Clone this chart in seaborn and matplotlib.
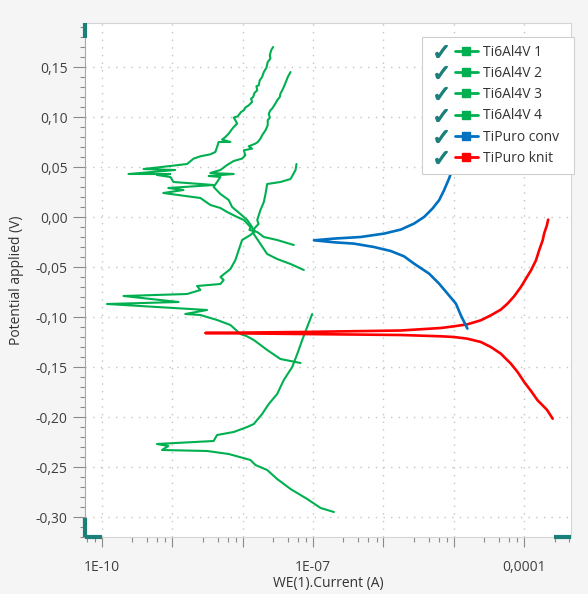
import numpy as np
import pandas as pd
import matplotlib
matplotlib.use("Agg")
import matplotlib.pyplot as plt
import seaborn as sns
from matplotlib.lines import Line2D
from matplotlib.legend_handler import HandlerTuple
from matplotlib.ticker import FixedLocator, FuncFormatter, MultipleLocator, NullFormatter

# ---------------- data (current in A, potential in V) ----------------
series_names = ["Ti6Al4V 1", "Ti6Al4V 2", "Ti6Al4V 3", "Ti6Al4V 4", "TiPuro conv", "TiPuro knit"]
series_colors = ["#00B050", "#00B050", "#00B050", "#00B050", "#0070C0", "#FF0000"]

ti1_current = [2.71e-8, 2.54e-8, 2.43e-8, 2.48e-8, 2.27e-8, 2.18e-8, 2.00e-8, 1.89e-8, 1.75e-8, 1.69e-8,
               1.57e-8, 1.61e-8, 1.47e-8, 1.41e-8, 1.32e-8, 1.36e-8, 1.22e-8, 1.09e-8, 1.04e-8, 9.50e-9,
               8.51e-9, 7.46e-9, 7.89e-9, 8.34e-9, 7.46e-9, 6.85e-9, 6.34e-9, 5.69e-9, 5.10e-9, 6.70e-9,
               4.56e-9, 4.33e-9, 4.09e-9, 3.48e-9, 2.51e-9, 2.01e-9, 1.62e-9, 9.37e-10, 3.91e-10, 1.10e-9,
               2.39e-10, 9.37e-10, 6.06e-10, 9.37e-10, 1.04e-9, 2.51e-9, 3.87e-9, 8.78e-10, 1.44e-9, 7.45e-10,
               2.51e-9, 3.48e-9, 4.83e-9, 6.01e-9, 8.34e-9, 1.04e-8, 1.29e-8, 1.25e-8, 1.61e-8, 2.00e-8,
               3.09e-8, 5.33e-8]
ti1_potential = [0.170, 0.1667, 0.1617, 0.1584, 0.155, 0.1494, 0.145, 0.140, 0.1367, 0.1317,
                 0.1307, 0.1267, 0.124, 0.120, 0.1184, 0.115, 0.1117, 0.1094, 0.1067, 0.105,
                 0.1007, 0.0994, 0.0967, 0.0934, 0.090, 0.0867, 0.0834, 0.080, 0.0774, 0.075,
                 0.075, 0.070, 0.065, 0.0627, 0.0607, 0.0584, 0.053, 0.051, 0.048, 0.047,
                 0.043, 0.043, 0.042, 0.040, 0.035, 0.033, 0.032, 0.029, 0.027, 0.024,
                 0.019, 0.012, 0.009, 0.005, 0.000, -0.003, -0.010, -0.013, -0.015, -0.020,
                 -0.023, -0.028]

ti2_current = [4.79e-8, 4.38e-8, 4.20e-8, 3.93e-8, 3.65e-8, 3.44e-8, 3.37e-8, 3.09e-8, 2.92e-8, 2.62e-8,
               2.48e-8, 2.35e-8, 2.43e-8, 2.27e-8, 2.27e-8, 2.11e-8, 1.89e-8, 1.79e-8, 1.64e-8, 1.52e-8,
               1.22e-8, 1.36e-8, 1.04e-8, 1.09e-8, 9.82e-9, 7.46e-9, 6.01e-9, 4.83e-9, 3.48e-9, 7.46e-9,
               3.29e-9, 4.83e-9, 4.33e-9, 3.87e-9, 4.83e-9, 6.34e-9, 7.08e-9, 9.29e-9, 1.16e-8, 1.36e-8,
               1.44e-8, 1.79e-8, 2.23e-8, 3.09e-8, 4.79e-8, 7.40e-8]
ti2_potential = [0.145, 0.140, 0.1367, 0.1317, 0.1267, 0.1234, 0.120, 0.1167, 0.1134, 0.1084,
                 0.1067, 0.1034, 0.0994, 0.0967, 0.0917, 0.0867, 0.0817, 0.0784, 0.075, 0.0734,
                 0.0707, 0.0684, 0.0667, 0.0617, 0.0584, 0.056, 0.052, 0.047, 0.044, 0.043,
                 0.041, 0.040, 0.035, 0.030, 0.023, 0.017, 0.010, 0.003, -0.003, -0.010,
                 -0.017, -0.027, -0.037, -0.042, -0.047, -0.053]

ti3_current = [5.82e-8, 5.64e-8, 4.79e-8, 3.44e-8, 2.23e-8, 2.11e-8, 2.00e-8, 1.79e-8, 1.61e-8, 1.68e-8,
               1.44e-8, 1.49e-8, 1.29e-8, 9.82e-9, 8.79e-9, 7.89e-9, 6.70e-9, 4.83e-9, 5.37e-9, 4.83e-9,
               2.25e-9, 2.51e-9, 1.62e-9, 2.03e-10, 1.23e-9, 1.18e-10, 3.12e-9, 1.53e-9, 2.51e-9, 4.33e-9,
               6.70e-9, 9.29e-9, 1.13e-8, 1.44e-8, 2.23e-8, 3.44e-8, 6.64e-8]
ti3_potential = [0.053, 0.047, 0.038, 0.035, 0.033, 0.023, 0.015, 0.007, -0.003, -0.007,
                 -0.012, -0.014, -0.018, -0.023, -0.033, -0.043, -0.052, -0.060, -0.063, -0.067,
                 -0.069, -0.073, -0.077, -0.079, -0.085, -0.087, -0.093, -0.097, -0.098, -0.103,
                 -0.108, -0.117, -0.119, -0.123, -0.133, -0.142, -0.146]

ti4_current = [9.73e-8, 8.26e-8, 7.02e-8, 5.96e-8, 5.06e-8, 3.84e-8, 3.09e-8, 2.35e-8, 1.89e-8, 1.44e-8,
               1.16e-8, 7.46e-9, 4.33e-9, 3.87e-9, 6.06e-10, 8.80e-10, 7.14e-10, 3.12e-9, 6.34e-9, 1.29e-8,
               1.52e-8, 2.23e-8, 3.09e-8, 4.79e-8, 8.26e-8, 1.28e-7, 1.98e-7]
ti4_potential = [-0.097, -0.110, -0.123, -0.137, -0.150, -0.163, -0.177, -0.187, -0.197, -0.207,
                 -0.210, -0.215, -0.218, -0.224, -0.227, -0.229, -0.233, -0.234, -0.237, -0.243,
                 -0.248, -0.253, -0.262, -0.272, -0.282, -0.291, -0.295]

conv_current = [1.56e-5, 1.26e-5, 1.07e-5, 8.13e-6, 6.17e-6, 4.45e-6, 2.72e-6, 1.96e-6, 1.27e-6, 7.33e-7,
                3.80e-7, 1.98e-7, 1.03e-7, 1.98e-7, 4.74e-7, 1.02e-6, 1.76e-6, 2.72e-6, 3.78e-6, 4.97e-6,
                6.17e-6, 7.26e-6, 8.55e-6, 1.07e-5, 1.34e-5]
conv_potential = [-0.1116, -0.0983, -0.0866, -0.0766, -0.0666, -0.0566, -0.0466, -0.0393, -0.0340, -0.0300,
                  -0.0266, -0.0253, -0.0233, -0.0216, -0.0200, -0.0166, -0.0126, -0.0066, 0.0000, 0.0084,
                  0.0167, 0.0267, 0.0384, 0.057, 0.077]

knit_current = [2.54e-4, 2.10e-4, 1.55e-4, 1.25e-4, 1.00e-4, 8.05e-5, 6.47e-5, 4.66e-5, 3.36e-5, 2.42e-5,
                1.56e-5, 1.01e-5, 6.52e-6, 1.76e-6, 6.64e-8, 2.95e-9, 6.64e-8, 1.76e-6, 6.52e-6, 1.01e-5,
                1.56e-5, 2.42e-5, 3.36e-5, 4.66e-5, 5.80e-5, 7.19e-5, 8.97e-5, 1.06e-4, 1.25e-4, 1.47e-4,
                1.63e-4, 1.83e-4, 1.92e-4, 2.10e-4, 2.19e-4]
knit_potential = [-0.2017, -0.1927, -0.1833, -0.1740, -0.1650, -0.1550, -0.1467, -0.1367, -0.1300, -0.1250,
                  -0.1217, -0.1200, -0.1193, -0.1180, -0.1170, -0.1160, -0.1150, -0.1135, -0.1110, -0.1093,
                  -0.1073, -0.1033, -0.0983, -0.0926, -0.0866, -0.0793, -0.0700, -0.0616, -0.0533, -0.0433,
                  -0.0333, -0.0233, -0.0166, -0.0083, -0.0026]

x_tick_values = [1e-10, 1e-7, 1e-4]
x_tick_labels = ["1E-10", "1E-07", "0,0001"]
x_label = "WE(1).Current (A)"
y_label = "Potential applied (V)"

# ---------------- build table ----------------
currents = [ti1_current, ti2_current, ti3_current, ti4_current, conv_current, knit_current]
potentials = [ti1_potential, ti2_potential, ti3_potential, ti4_potential, conv_potential, knit_potential]
frames = []
for name, cur, pot in zip(series_names, currents, potentials):
    frames.append(pd.DataFrame({"series": name, "current": cur, "potential": pot,
                                "step": np.arange(len(cur))}))
df = pd.concat(frames, ignore_index=True)

# ---------------- style ----------------
sns.set_style("white")
plt.rcParams["font.family"] = ["Open Sans", "DejaVu Sans"]

W, H = 588, 594
fig = plt.figure(figsize=(W / 100, H / 100), dpi=100, facecolor="#f5f5f5")
ax_l, ax_r, ax_t, ax_b = 85, 571, 23, 537
ax = fig.add_axes([ax_l / W, 1 - ax_b / H, (ax_r - ax_l) / W, (ax_b - ax_t) / H])
ax.set_facecolor("white")

draw_order = [0, 1, 2, 3, 5, 4]
widths = [1.5, 1.5, 1.5, 1.5, 1.9, 1.9]
for i in draw_order:
    name = series_names[i]
    sub = df[df["series"] == name]
    sns.lineplot(data=sub, x="current", y="potential", sort=False, estimator=None,
                 color=series_colors[i], linewidth=widths[i], ax=ax, legend=False)

ax.set_xscale("log")
ax.set_xlim(10 ** -10.24, 10 ** -3.335)
ax.set_ylim(-0.320, 0.194)

# ticks
decades = [10.0 ** k for k in range(-10, -3)]
ax.xaxis.set_major_locator(FixedLocator(decades))
lab_map = dict(zip([round(np.log10(v)) for v in x_tick_values], x_tick_labels))
ax.xaxis.set_major_formatter(FuncFormatter(lambda v, p: lab_map.get(int(round(np.log10(v))), "")))
minor = [d * s for d in [10.0 ** k for k in range(-11, -3)] for s in (2.7, 4.4, 6.1, 8.0)]
ax.xaxis.set_minor_locator(FixedLocator(minor))
ax.xaxis.set_minor_formatter(NullFormatter())

ax.yaxis.set_major_locator(MultipleLocator(0.05))
ax.yaxis.set_minor_locator(MultipleLocator(0.01))
ax.yaxis.set_major_formatter(FuncFormatter(lambda v, p: f"{v:.2f}".replace(".", ",").replace("-0,00", "0,00")))

tick_gray = "#8a8a8a"
ax.tick_params(axis="y", which="major", length=8.5, width=0.8, color=tick_gray, pad=4,
               labelsize=10, labelcolor="#404040", left=True)
ax.tick_params(axis="y", which="minor", length=3.6, width=0.8, color=tick_gray, left=True)
ax.tick_params(axis="x", which="major", length=7.5, width=0.8, color=tick_gray, pad=9,
               labelsize=10, labelcolor="#404040", bottom=True)
ax.tick_params(axis="x", which="minor", length=3.6, width=0.8, color=tick_gray, bottom=True)

ax.grid(True, which="major", color="#c4c4c4", linestyle=(0, (1, 4.5)), linewidth=1.0)

for side, sp in ax.spines.items():
    sp.set_visible(True)
    sp.set_linewidth(0.8)
    sp.set_color("#d4d4d4")
ax.spines["left"].set_color("#a8a8a8")

ax.set_xlabel(x_label, fontsize=10, color="#333333")
ax.set_ylabel(y_label, fontsize=10, color="#333333")
ax.xaxis.set_label_coords(0.5, -0.076)
ax.yaxis.set_label_coords(-0.1255, 0.5)

# axis range handles (teal)
teal = "#1b7f7a"
for (xs, ys) in [([0, 0], [1.0, 0.97]), ([0, 0], [0.0, 0.037]),
                 ([0, 0.035], [0, 0]), ([0.965, 1.0], [0, 0])]:
    ax.add_line(Line2D(xs, ys, transform=ax.transAxes, color=teal, lw=3.0, clip_on=False,
                       solid_capstyle="butt", zorder=5))

# legend
handles = []
for i, name in enumerate(series_names):
    chk = Line2D([], [], ls="none", marker=r"$\checkmark$", markersize=8.5, color=teal)
    ln = Line2D([], [], color=series_colors[i], lw=2, marker="s", markersize=5.5)
    handles.append((chk, ln))
lx0, lx1, ly0 = 422, 574, 37
leg = fig.legend(handles, series_names, loc="upper left", mode="expand",
                 bbox_to_anchor=(lx0 / W, 1 - ly0 / H, (lx1 - lx0) / W, 0.0),
                 bbox_transform=fig.transFigure,
                 handler_map={tuple: HandlerTuple(ndivide=2, pad=0.144)},
                 handlelength=3.46, handletextpad=0.36, borderpad=0.55, labelspacing=0.45,
                 fontsize=10, frameon=True, fancybox=False, framealpha=1.0,
                 edgecolor="#cfcfcf", facecolor="white", borderaxespad=0)
leg.get_frame().set_linewidth(0.8)
for t in leg.get_texts():
    t.set_color("#333333")

fig.savefig("out.png", dpi=100, facecolor=fig.get_facecolor())
